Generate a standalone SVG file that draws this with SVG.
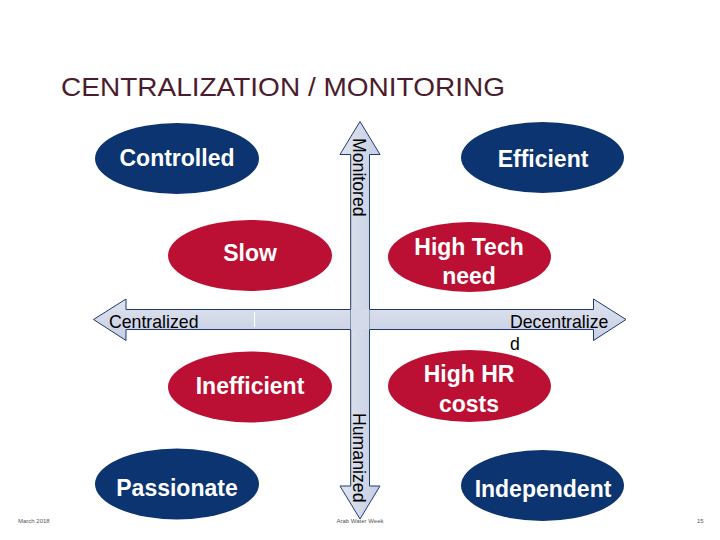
<svg xmlns="http://www.w3.org/2000/svg" width="720" height="540" viewBox="0 0 720 540">
<defs>
<linearGradient id="gh" x1="0" y1="0" x2="0" y2="1">
<stop offset="0" stop-color="#dfe4ef"/><stop offset="1" stop-color="#c6cee2"/>
</linearGradient>
<linearGradient id="gv" x1="0" y1="0" x2="1" y2="0">
<stop offset="0" stop-color="#dfe4ef"/><stop offset="1" stop-color="#c6cee2"/>
</linearGradient>
<linearGradient id="gd" x1="0" y1="0" x2="0" y2="1">
<stop offset="0" stop-color="#d8deeb"/><stop offset="1" stop-color="#aab6d2"/>
</linearGradient>
</defs>
<style>
.navy{fill:#0b3470}
.red{fill:#bb1034}
.lbl{font-family:"Liberation Sans",Arial,sans-serif;font-weight:bold;font-size:23px;fill:#fff;text-anchor:middle}
.ax{font-family:"Liberation Sans",Arial,sans-serif;font-size:17.7px;fill:#000}
.arr{stroke:#1f3a6e;stroke-width:1}
.ft{font-family:"Liberation Sans",Arial,sans-serif;font-size:6px;fill:#555}
</style>
<rect width="720" height="540" fill="#fff"/>
<text x="61" y="96" font-family="Liberation Sans, Arial, sans-serif" font-size="26.5" fill="#4b1c2e" textLength="444" lengthAdjust="spacingAndGlyphs">CENTRALIZATION / MONITORING</text>
<g id="connectors">
<path class="arr" fill="url(#gh)" d="M93.5,319.5 L126,299 L126,309.5 L351,309.5 L351,329.5 L126,329.5 L126,340.5 Z M626,319.5 L593.5,299 L593.5,309.5 L369,309.5 L369,329.5 L593.5,329.5 L593.5,340.5 Z"/>
<path class="arr" fill="url(#gv)" d="M360,121.5 L340,154.5 L350.7,154.5 L350.7,309.5 L369.5,309.5 L369.5,154.5 L380,154.5 Z"/>
<path class="arr" fill="url(#gv)" d="M350.7,329.5 L350.7,486 L340,486 L360,519 L380,486 L369.5,486 L369.5,329.5 Z"/>
<rect x="350.9" y="309" width="18.4" height="21" fill="#d4dae9"/>
<path d="M350.7,309.5 L351,309.5 M369.5,309.5 L369,309.5" stroke="none"/>
<line x1="254.5" y1="312" x2="254.5" y2="327" stroke="#fff" stroke-width="1.2"/>
<text class="ax" x="109" y="327.5">Centralized</text>
<text class="ax" x="510" y="327.5">Decentralize</text>
<text class="ax" x="510" y="350">d</text>
<text class="ax" font-size="18.4" transform="translate(352.5,138) rotate(90)">Monitored</text>
<text class="ax" font-size="19.5" transform="translate(352.5,413) rotate(90)">Humanized</text>
</g>
<g id="controlled"><ellipse class="navy" cx="177" cy="158.5" rx="82" ry="35.5"/><text class="lbl" x="177" y="166">Controlled</text></g>
<g id="efficient"><ellipse class="navy" cx="542.5" cy="157.5" rx="81.5" ry="35.5"/><text class="lbl" x="543" y="167">Efficient</text></g>
<g id="slow"><ellipse class="red" cx="250" cy="255.5" rx="82" ry="35.5"/><text class="lbl" x="250" y="261">Slow</text></g>
<g id="hightech"><ellipse class="red" cx="469.5" cy="257" rx="81.5" ry="35"/><text class="lbl" x="469" y="254.5">High Tech</text><text class="lbl" x="469" y="284">need</text></g>
<g id="inefficient"><ellipse class="red" cx="250" cy="387" rx="82" ry="35.5"/><text class="lbl" x="250" y="394">Inefficient</text></g>
<g id="highhr"><ellipse class="red" cx="469.5" cy="386" rx="81.5" ry="36"/><text class="lbl" x="469" y="382">High HR</text><text class="lbl" x="469" y="412">costs</text></g>
<g id="passionate"><ellipse class="navy" cx="177" cy="484" rx="82" ry="35.5"/><text class="lbl" x="177" y="496">Passionate</text></g>
<g id="independent"><ellipse class="navy" cx="542.5" cy="485.5" rx="81.5" ry="35.5"/><text class="lbl" x="543" y="496.5">Independent</text></g>
<text class="ft" x="18" y="523">March 2018</text>
<text class="ft" x="360" y="523" text-anchor="middle">Arab Water Week</text>
<text class="ft" x="697" y="523">15</text>
</svg>
